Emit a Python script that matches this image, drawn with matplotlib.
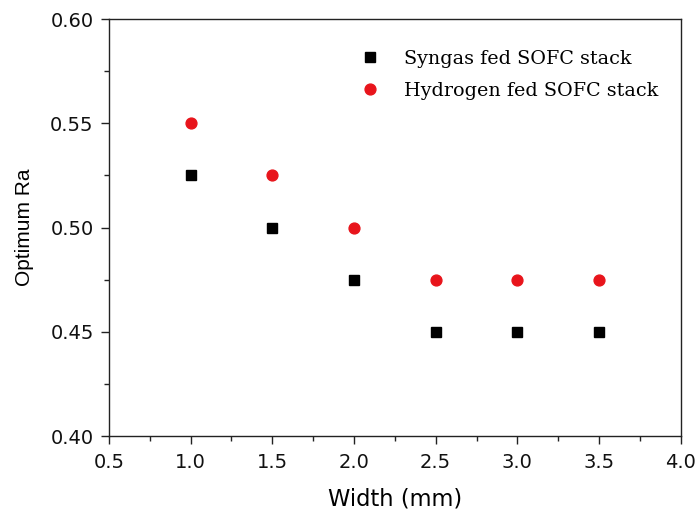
import matplotlib
matplotlib.use("Agg")
import matplotlib.pyplot as plt
from matplotlib.ticker import MultipleLocator, FormatStrFormatter

width_mm = [1.0, 1.5, 2.0, 2.5, 3.0, 3.5]
syngas_ra = [0.525, 0.500, 0.475, 0.450, 0.450, 0.450]
hydrogen_ra = [0.550, 0.525, 0.500, 0.475, 0.475, 0.475]

plt.rcParams["font.family"] = ["DejaVu Sans"]

fig = plt.figure(figsize=(6.96, 5.21), dpi=100)
ax = fig.add_axes([0.1566, 0.163, 0.8214, 0.8005])

ax.plot(width_mm, syngas_ra, linestyle="none", marker="s", color="black",
        markersize=7.2, label="Syngas fed SOFC stack")
ax.plot(width_mm, hydrogen_ra, linestyle="none", marker="o", color="#e8141b",
        markersize=7.8, label="Hydrogen fed SOFC stack")

ax.set_xlim(0.5, 4.0)
ax.set_ylim(0.40, 0.60)
ax.xaxis.set_major_locator(MultipleLocator(0.5))
ax.xaxis.set_minor_locator(MultipleLocator(0.25))
ax.yaxis.set_major_locator(MultipleLocator(0.05))
ax.yaxis.set_minor_locator(MultipleLocator(0.025))
ax.xaxis.set_major_formatter(FormatStrFormatter("%.1f"))
ax.yaxis.set_major_formatter(FormatStrFormatter("%.2f"))
ax.tick_params(which="both", direction="out", top=False, right=False,
               labelsize=14, color="#222222", labelcolor="#111111")
ax.tick_params(which="major", length=6, width=1)
ax.tick_params(which="minor", length=3.5, width=1)
ax.tick_params(axis="x", which="major", pad=6)
ax.tick_params(axis="y", which="major", pad=5)
for s in ax.spines.values():
    s.set_linewidth(1.0)
    s.set_color("#222222")

ax.set_xlabel("Width (mm)", fontsize=16.3, labelpad=11)
ax.set_ylabel("Optimum Ra", fontsize=15, family="Liberation Sans",
              labelpad=12)

ax.legend(loc="upper left", bbox_to_anchor=(0.4395, 0.9256), frameon=False,
          handletextpad=1.27, labelspacing=0.71, handlelength=1.0,
          borderaxespad=0.0, borderpad=0.0,
          prop={"family": "DejaVu Serif", "size": 13.8})

fig.savefig("out.png", dpi=100)
